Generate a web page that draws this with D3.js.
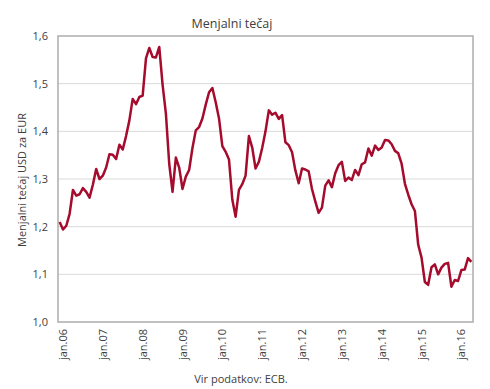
<!DOCTYPE html>
<html>
<head>
<meta charset="utf-8">
<script src="https://cdn.jsdelivr.net/npm/d3@7"></script>
<style>
  body { margin: 0; background: #fff; }
  text { font-family: "Open Sans", "Noto Sans", sans-serif; fill: #404040; }
</style>
</head>
<body>
<div id="chart"></div>
<script>
// monthly EUR/USD rate, jan 2006 - may 2016
var years = ["06", "07", "08", "09", "10", "11", "12", "13", "14", "15", "16"];
var rate2006 = [1.210, 1.194, 1.202, 1.227, 1.277, 1.265, 1.268, 1.281, 1.273, 1.261, 1.288, 1.321];
var rate2007 = [1.300, 1.307, 1.324, 1.352, 1.351, 1.342, 1.372, 1.362, 1.390, 1.423, 1.468, 1.457];
var rate2008 = [1.472, 1.475, 1.553, 1.575, 1.556, 1.555, 1.577, 1.498, 1.437, 1.332, 1.273, 1.345];
var rate2009 = [1.324, 1.279, 1.305, 1.319, 1.365, 1.402, 1.409, 1.427, 1.456, 1.482, 1.491, 1.461];
var rate2010 = [1.427, 1.369, 1.357, 1.341, 1.257, 1.221, 1.277, 1.289, 1.307, 1.390, 1.366, 1.322];
var rate2011 = [1.336, 1.365, 1.400, 1.444, 1.435, 1.439, 1.426, 1.434, 1.377, 1.371, 1.356, 1.318];
var rate2012 = [1.291, 1.322, 1.320, 1.316, 1.279, 1.253, 1.229, 1.240, 1.286, 1.297, 1.283, 1.312];
var rate2013 = [1.329, 1.336, 1.296, 1.303, 1.298, 1.319, 1.308, 1.331, 1.335, 1.364, 1.349, 1.370];
var rate2014 = [1.361, 1.366, 1.382, 1.381, 1.373, 1.359, 1.354, 1.332, 1.290, 1.267, 1.247, 1.233];
var rate2015 = [1.162, 1.135, 1.084, 1.078, 1.115, 1.121, 1.100, 1.114, 1.122, 1.124, 1.074, 1.088];
var rate2016 = [1.086, 1.109, 1.110, 1.134, 1.126];
var yTicks = [1.0, 1.1, 1.2, 1.3, 1.4, 1.5, 1.6];

var rates = [].concat(rate2006, rate2007, rate2008, rate2009, rate2010, rate2011,
                      rate2012, rate2013, rate2014, rate2015, rate2016);
var months = rates.map(function(d, i) { return i; });

var width = 490, height = 389;
var plot = { left: 58, right: 473, top: 36, bottom: 322 };

var svg = d3.select("#chart").append("svg")
    .attr("width", width)
    .attr("height", height);

var x = d3.scalePoint()
    .domain(months)
    .range([plot.left, plot.right])
    .padding(0.5);

var y = d3.scaleLinear()
    .domain([1.0, 1.6])
    .range([plot.bottom, plot.top]);

var sl = d3.formatLocale({ decimal: ",", thousands: ".", grouping: [3], currency: ["", " €"] });

// gridlines
svg.append("g")
    .selectAll("line")
    .data(yTicks.slice(1, -1))
    .enter().append("line")
    .attr("x1", plot.left)
    .attr("x2", plot.right)
    .attr("y1", function(d) { return y(d); })
    .attr("y2", function(d) { return y(d); })
    .attr("stroke", "#D9D9D9")
    .attr("stroke-width", 1);

// plot frame
svg.append("rect")
    .attr("x", plot.left)
    .attr("y", plot.top)
    .attr("width", plot.right - plot.left)
    .attr("height", plot.bottom - plot.top)
    .attr("fill", "none")
    .attr("stroke", "#ADADAD")
    .attr("stroke-width", 1.5);

// y axis labels
var yAxis = svg.append("g")
    .attr("transform", "translate(" + plot.left + ",0)")
    .call(d3.axisLeft(y).tickValues(yTicks).tickFormat(sl.format(".1f")).tickSize(0).tickPadding(10));
yAxis.select(".domain").remove();
yAxis.selectAll("text").style("font-size", "11px").attr("fill", "#404040");

// x axis labels, one per january
var xAxis = svg.append("g")
    .attr("transform", "translate(0," + plot.bottom + ")")
    .call(d3.axisBottom(x)
        .tickValues(months.filter(function(d) { return d % 12 === 0; }))
        .tickFormat(function(d) { return "jan." + years[d / 12]; })
        .tickSize(0));
xAxis.select(".domain").remove();
xAxis.selectAll("text")
    .style("font-size", "11px")
    .attr("fill", "#404040")
    .attr("text-anchor", "end")
    .attr("dy", "0.35em")
    .attr("transform", "translate(3,0) rotate(-90)")
    .attr("x", -7)
    .attr("y", 0);

// the rate line
var line = d3.line()
    .x(function(d, i) { return x(i); })
    .y(function(d) { return y(d); });

svg.append("path")
    .datum(rates)
    .attr("d", line)
    .attr("fill", "none")
    .attr("stroke", "#A50B2C")
    .attr("stroke-width", 2.5)
    .attr("stroke-linejoin", "round");

// title
svg.append("text")
    .attr("x", 232)
    .attr("y", 28)
    .attr("text-anchor", "middle")
    .style("font-size", "12.5px")
    .text("Menjalni tečaj");

// y axis title
svg.append("text")
    .attr("transform", "translate(26,180) rotate(-90)")
    .attr("text-anchor", "middle")
    .style("font-size", "11px")
    .text("Menjalni tečaj USD za EUR");

// source note
svg.append("text")
    .attr("x", 241)
    .attr("y", 383)
    .attr("text-anchor", "middle")
    .style("font-size", "11px")
    .text("Vir podatkov: ECB.");
</script>
</body>
</html>
